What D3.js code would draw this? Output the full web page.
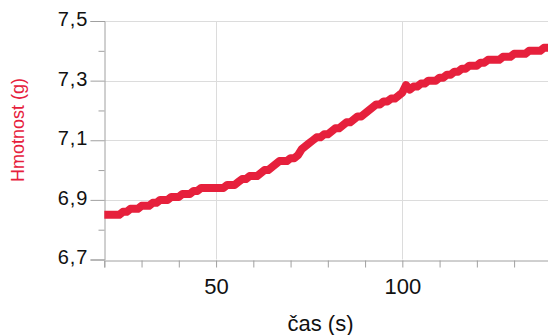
<!DOCTYPE html>
<html>
<head>
<meta charset="utf-8">
<script src="https://cdn.jsdelivr.net/npm/d3@7"></script>
<style>
  html, body { margin: 0; padding: 0; background: #fff; }
  svg { display: block; }
  text { font-family: "Liberation Sans", Arial, sans-serif; }
</style>
</head>
<body>
<svg id="chart" width="548" height="335"></svg>
<script>
// time (s)
const times = d3.range(20, 141, 1);
// mass (g) at 1 s steps
const masses = [
  6.85, 6.85, 6.85, 6.85, 6.85, 6.86, 6.86, 6.87, 6.87, 6.87,
  6.88, 6.88, 6.88, 6.89, 6.89, 6.90, 6.90, 6.90, 6.91, 6.91,
  6.91, 6.92, 6.92, 6.92, 6.93, 6.93, 6.94, 6.94, 6.94, 6.94,
  6.94, 6.94, 6.94, 6.95, 6.95, 6.95, 6.96, 6.97, 6.97, 6.98,
  6.98, 6.98, 6.99, 7.00, 7.00, 7.01, 7.02, 7.03, 7.03, 7.03,
  7.04, 7.04, 7.05, 7.07, 7.08, 7.09, 7.10, 7.11, 7.11, 7.12,
  7.12, 7.13, 7.14, 7.14, 7.15, 7.16, 7.16, 7.17, 7.18, 7.18,
  7.19, 7.20, 7.21, 7.22, 7.22, 7.23, 7.23, 7.24, 7.24, 7.25,
  7.26, 7.285, 7.27, 7.28, 7.28, 7.29, 7.29, 7.30, 7.30, 7.30,
  7.31, 7.31, 7.32, 7.32, 7.33, 7.33, 7.34, 7.34, 7.35, 7.35,
  7.35, 7.36, 7.36, 7.37, 7.37, 7.37, 7.37, 7.38, 7.38, 7.38,
  7.39, 7.39, 7.39, 7.39, 7.40, 7.40, 7.40, 7.40, 7.41, 7.41,
  7.41
];
const xMajorTicks = [50, 100];
const xMinorTicks = [20, 30, 40, 60, 70, 80, 90, 110, 120, 130];
const yMajorTicks = [6.7, 6.9, 7.1, 7.3, 7.5];
const yMinorTicks = [6.8, 7.0, 7.2, 7.4];
const xTitle = "čas (s)";
const yTitle = "Hmotnost (g)";

const red = "#e6203c";
const svg = d3.select("#chart");
const x = d3.scaleLinear().domain([20, 139.1]).range([104.3, 548]);
const y = d3.scaleLinear().domain([6.7, 7.5]).range([259.5, 21]);

const fmtY = d => d3.format(".1f")(d).replace(".", ",");

svg.append("clipPath").attr("id", "plotclip").append("rect")
  .attr("x", x(20)).attr("y", 0).attr("width", 548 - x(20)).attr("height", y(6.7));

// gridlines
const grid = svg.append("g").attr("stroke", "#dcdcdc").attr("stroke-width", 1);
grid.selectAll("line.h").data(yMajorTicks.filter(d => d > 6.7)).join("line")
  .attr("x1", x(20)).attr("x2", 548)
  .attr("y1", d => Math.round(y(d)) + 0.5).attr("y2", d => Math.round(y(d)) + 0.5);
grid.selectAll("line.v").data(xMajorTicks).join("line")
  .attr("y1", y(7.5)).attr("y2", y(6.7))
  .attr("x1", d => Math.round(x(d)) + 0.5).attr("x2", d => Math.round(x(d)) + 0.5);

// y axis
const yAxisG = svg.append("g").attr("transform", `translate(${Math.round(x(20)) + 0.5},0)`);
yAxisG.call(d3.axisLeft(y).tickValues(yMajorTicks).tickSize(14).tickPadding(2).tickFormat(fmtY));
yAxisG.append("g").call(d3.axisLeft(y).tickValues(yMinorTicks).tickSize(6).tickFormat(""))
  .select(".domain").remove();
yAxisG.selectAll(".domain").attr("stroke", "#a0a0a0");
yAxisG.selectAll(".tick line").attr("stroke", "#a0a0a0");
yAxisG.selectAll(".tick text")
  .attr("font-size", 20).attr("fill", "#111")
  .attr("font-family", "Liberation Sans, Arial, sans-serif")
  .attr("dy", "0.22em").attr("letter-spacing", "1px");

// x axis
const xAxisG = svg.append("g").attr("transform", `translate(0,${Math.round(y(6.7)) + 0.5})`);
xAxisG.call(d3.axisBottom(x).tickValues(xMajorTicks).tickSize(7).tickPadding(11).tickFormat(d3.format("d")));
xAxisG.append("g").call(d3.axisBottom(x).tickValues(xMinorTicks).tickSize(7).tickFormat(""))
  .select(".domain").remove();
xAxisG.selectAll(".domain").attr("stroke", "#a0a0a0");
xAxisG.selectAll(".tick line").attr("stroke", "#a0a0a0");
xAxisG.selectAll(".tick text")
  .attr("font-size", 22).attr("fill", "#111")
  .attr("font-family", "Liberation Sans, Arial, sans-serif");

// data line
const data = times.map((t, i) => ({ t, m: masses[i] }));
svg.append("path")
  .datum(data)
  .attr("clip-path", "url(#plotclip)")
  .attr("fill", "none")
  .attr("stroke", red)
  .attr("stroke-width", 8)
  .attr("stroke-linejoin", "round")
  .attr("stroke-linecap", "round")
  .attr("d", d3.line().x(d => x(d.t)).y(d => y(d.m)));

// titles
svg.append("text")
  .attr("x", 320.5).attr("y", 331)
  .attr("text-anchor", "middle")
  .attr("font-size", 22).attr("fill", "#111")
  .text(xTitle);
svg.append("text")
  .attr("transform", "translate(24,130) rotate(-90)")
  .attr("text-anchor", "middle")
  .attr("font-size", 18).attr("fill", red)
  .text(yTitle);
</script>
</body>
</html>
